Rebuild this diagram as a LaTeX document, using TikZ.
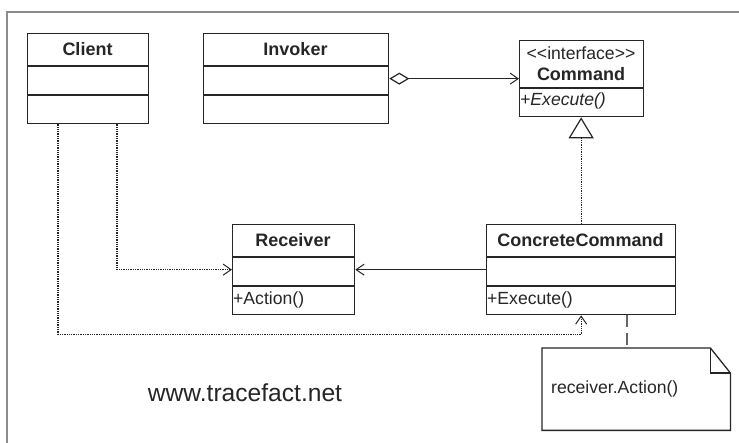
\documentclass[tikz,border=0pt]{standalone}
\usepackage{fontspec}
\setmainfont{Liberation Sans}
\usetikzlibrary{arrows.meta,calc}

\begin{document}
\begin{tikzpicture}[x=1pt,y=-1pt,
  line join=miter,
  classbox/.style={draw=black!85, line width=1.3pt, fill=white, inner sep=0pt,
    anchor=north west},
  sep/.style={draw=black!85, line width=1.3pt},
  cname/.style={font=\fontsize{18}{21}\selectfont\bfseries, inner sep=0pt, text=black!85},
  plain/.style={font=\fontsize{17.6}{21}\selectfont, inner sep=0pt, text=black!85},
  member/.style={plain, anchor=west},
  barb/.style={-{Straight Barb[length=8pt,width=11pt,line width=1pt]}},
  dep/.style={barb, line width=1.3pt, draw=black!85, dash pattern=on 1.3pt off 1pt},
  assoc/.style={barb, line width=1.2pt, draw=black!85},
  frameline/.style={draw=black!45, line width=1.5pt}
]
\useasboundingbox (0,0) rectangle (739,443);
\fill[white] (0,0) rectangle (739,443);

% outer frame (top and left edges)
\draw[frameline] (7,450) -- (7,12) -- (745,12);

% classes
\node[classbox, minimum width=121pt, minimum height=90pt] (client) at (27,33) {};
\draw[sep] ([yshift=-33pt]client.north west) -- ([yshift=-33pt]client.north east);
\draw[sep] ([yshift=-62pt]client.north west) -- ([yshift=-62pt]client.north east);
\node[cname] (clientname) at (87.5,49.5) {Client};

\node[classbox, minimum width=185pt, minimum height=90pt] (invoker) at (203,33) {};
\draw[sep] ([yshift=-33pt]invoker.north west) -- ([yshift=-33pt]invoker.north east);
\draw[sep] ([yshift=-62pt]invoker.north west) -- ([yshift=-62pt]invoker.north east);
\node[cname] (invokername) at (295.5,49.5) {Invoker};

\node[classbox, minimum width=124pt, minimum height=76pt] (command) at (519,40) {};
\draw[sep] ([yshift=-48pt]command.north west) -- ([yshift=-48pt]command.north east);
\node[plain] (stereo) at (581,53) {{<}{<}interface{>}{>}};
\node[cname] (commandname) at (581,74) {Command};
\node[member] (commandop) at (520,101) {\itshape +Execute()};

\node[classbox, minimum width=122pt, minimum height=90pt] (receiver) at (232,224) {};
\draw[sep] ([yshift=-33pt]receiver.north west) -- ([yshift=-33pt]receiver.north east);
\draw[sep] ([yshift=-62pt]receiver.north west) -- ([yshift=-62pt]receiver.north east);
\node[cname] (receivername) at (293,240.5) {Receiver};
\node[member] (receiverop) at (233,300) {+Action()};

\node[classbox, minimum width=189pt, minimum height=90pt] (concrete) at (486,224) {};
\draw[sep] ([yshift=-33pt]concrete.north west) -- ([yshift=-33pt]concrete.north east);
\draw[sep] ([yshift=-62pt]concrete.north west) -- ([yshift=-62pt]concrete.north east);
\node[cname] (concretename) at (580.5,240.5) {ConcreteCommand};
\node[member] (concreteop) at (487,300) {+Execute()};

% note with folded corner
\node[inner sep=0pt, minimum width=188pt, minimum height=82pt, anchor=north west] (note) at (542,348) {};
\draw[draw=black!85, line width=1.3pt, fill=white]
  (note.north west) -- ([xshift=-20pt]note.north east) -- ([yshift=-25pt]note.north east)
  -- (note.south east) -- (note.south west) -- cycle;
\draw[draw=black!85, line width=1.3pt]
  ([xshift=-20pt]note.north east) -- ([xshift=-20pt,yshift=-25pt]note.north east)
  -- ([yshift=-25pt]note.north east);
\node[member] (notetext) at (551,389) {receiver.Action()};

% connectors
\draw[line width=1.2pt, draw=black!85,
  {Diamond[open,fill=white,length=20pt,width=12pt,line width=1.2pt]}-{Straight Barb[length=8pt,width=11pt,line width=1pt]}]
  (invoker.east) -- (command.west);

\draw[line width=1.3pt, draw=black!85, dash pattern=on 1.3pt off 1pt,
  -{Triangle[open,fill=white,length=21pt,width=25pt,line width=1.2pt]}]
  (concrete.north) -- (concrete.north |- command.south);

\draw[assoc] (concrete.west) -- (receiver.east);

\draw[dep] ([xshift=90pt]client.south west) |- (receiver.west);
\draw[dep] ([xshift=31pt]client.south west) |- ([yshift=-19pt]concrete.south) -- (concrete.south);

\draw[draw=black!60, line width=2pt, dash pattern=on 12pt off 6pt]
  ([xshift=141pt]concrete.south west) -- ([xshift=141pt]concrete.south west |- note.north);

% site address
\node[font=\fontsize{24.6}{29}\selectfont, inner sep=0pt, text=black!85] (url) at (245,393) {www.tracefact.net};
\end{tikzpicture}
\end{document}
